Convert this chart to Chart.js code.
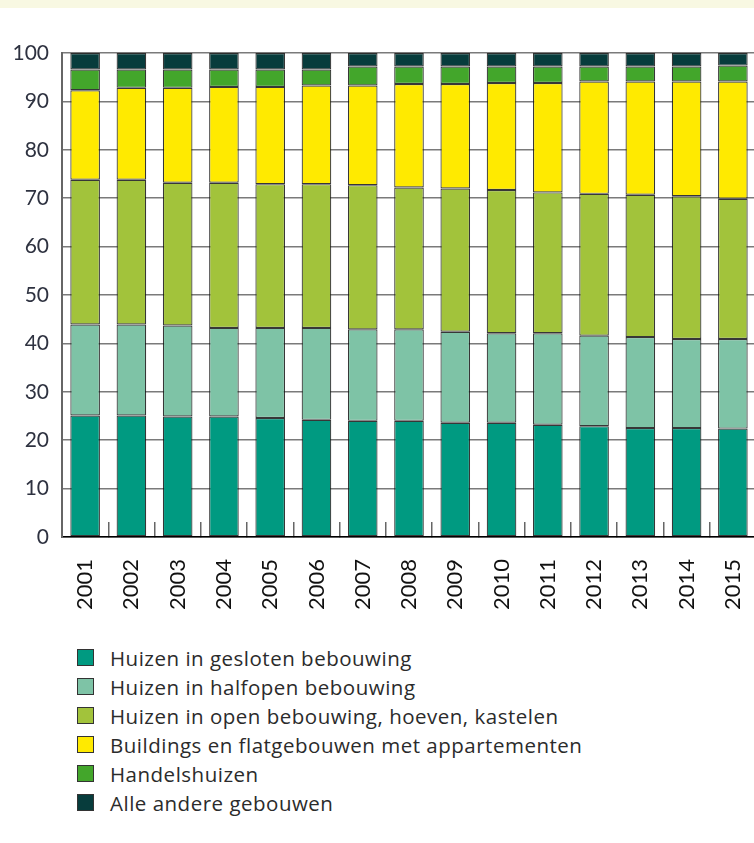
<!DOCTYPE html>
<html>
<head>
<meta charset="utf-8">
<script src="https://cdn.jsdelivr.net/npm/chart.js@4.4.0/dist/chart.umd.min.js"></script>
<style>
  body { margin: 0; background: #fff; overflow: hidden; width: 754px; height: 843px; font-family: Lato, sans-serif; }
  #band { position: absolute; left: 0; top: 0; width: 754px; height: 8px; background: #f8f8e2; }
  #wrap { position: absolute; left: 0; top: 0; width: 760px; height: 621px; }
  #legend { position: absolute; left: 77px; top: 643px; color: #2b2b2b; font-size: 20.5px; letter-spacing: 0.5px; font-family: 'Open Sans', sans-serif; }
  .item { height: 29px; display: flex; align-items: center; }
  .box { width: 15px; height: 15px; border: 1.5px solid #333; margin-right: 16px; }
</style>
</head>
<body>
<div id="band"></div>
<div id="wrap"><canvas id="chart"></canvas></div>
<div id="legend"></div>
<script>
const years = ['2001', '2002', '2003', '2004', '2005', '2006', '2007', '2008',
  '2009', '2010', '2011', '2012', '2013', '2014', '2015'];

// aandeel in % per type gebouw
const gesloten   = [25.1, 25.1, 24.9, 24.9, 24.6, 24.2, 24.0, 24.0, 23.6, 23.6, 23.2, 22.9, 22.5, 22.5, 22.4];
const halfopen   = [18.8, 18.8, 18.8, 18.3, 18.6, 19.0, 18.9, 18.9, 18.8, 18.5, 18.9, 18.7, 18.8, 18.4, 18.5];
const open       = [29.9, 29.9, 29.5, 30.0, 29.7, 29.7, 29.8, 29.3, 29.6, 29.6, 29.1, 29.3, 29.4, 29.5, 29.0];
const buildings  = [18.5, 19.0, 19.6, 19.8, 20.1, 20.4, 20.6, 21.4, 21.6, 22.1, 22.6, 23.2, 23.4, 23.7, 24.2];
const handels    = [4.3, 3.8, 3.8, 3.6, 3.6, 3.3, 3.9, 3.6, 3.6, 3.4, 3.4, 3.1, 3.1, 3.1, 3.3];
const andere     = [3.4, 3.4, 3.4, 3.4, 3.4, 3.4, 2.8, 2.8, 2.8, 2.8, 2.8, 2.8, 2.8, 2.8, 2.6];

const seriesNames = [
  'Huizen in gesloten bebouwing',
  'Huizen in halfopen bebouwing',
  'Huizen in open bebouwing, hoeven, kastelen',
  'Buildings en flatgebouwen met appartementen',
  'Handelshuizen',
  'Alle andere gebouwen'
];
const seriesValues = [gesloten, halfopen, open, buildings, handels, andere];
const seriesColors = ['#009a81', '#7ec3a6', '#a2c33b', '#ffea00', '#43a62b', '#073c3c'];

const datasets = seriesValues.map((vals, i) => ({
  label: seriesNames[i],
  data: vals,
  backgroundColor: seriesColors[i],
  borderColor: 'rgba(20,20,20,0.85)',
  borderWidth: 1.2,
  borderSkipped: false,
  barPercentage: 0.64,
  categoryPercentage: 1
}));

const chart = new Chart(document.getElementById('chart'), {
  type: 'bar',
  data: { labels: years, datasets: datasets },
  options: {
    responsive: true,
    maintainAspectRatio: false,
    animation: false,
    layout: { padding: { top: 53, right: 4, left: 0, bottom: 0 } },
    plugins: { legend: { display: false }, tooltip: { enabled: false } },
    scales: {
      x: {
        stacked: true,
        grid: { offset: true, drawOnChartArea: false, drawTicks: true, tickLength: -15, color: '#666', lineWidth: 1.5 },
        border: { color: '#000', width: 1.5 },
        ticks: { minRotation: 90, maxRotation: 90, padding: 37, color: '#111', font: { family: 'Lato', size: 22 } },
        afterFit: s => { s.height = 84; s.paddingLeft = 0; s.paddingRight = 0; }
      },
      y: {
        stacked: true,
        min: 0,
        max: 100,
        ticks: { stepSize: 10, padding: 13, color: '#2e3240', font: { family: 'Lato', size: 21 } },
        grid: { color: '#7a7a7a', lineWidth: 1.5, drawTicks: false },
        border: { color: '#666', width: 2 },
        afterFit: s => { s.width = 62; }
      }
    }
  }
});

// legenda, een item per regel
const legend = document.getElementById('legend');
chart.data.datasets.forEach(ds => {
  const item = document.createElement('div');
  item.className = 'item';
  const box = document.createElement('span');
  box.className = 'box';
  box.style.background = ds.backgroundColor;
  const txt = document.createElement('span');
  txt.textContent = ds.label;
  item.appendChild(box);
  item.appendChild(txt);
  legend.appendChild(item);
});
</script>
</body>
</html>
